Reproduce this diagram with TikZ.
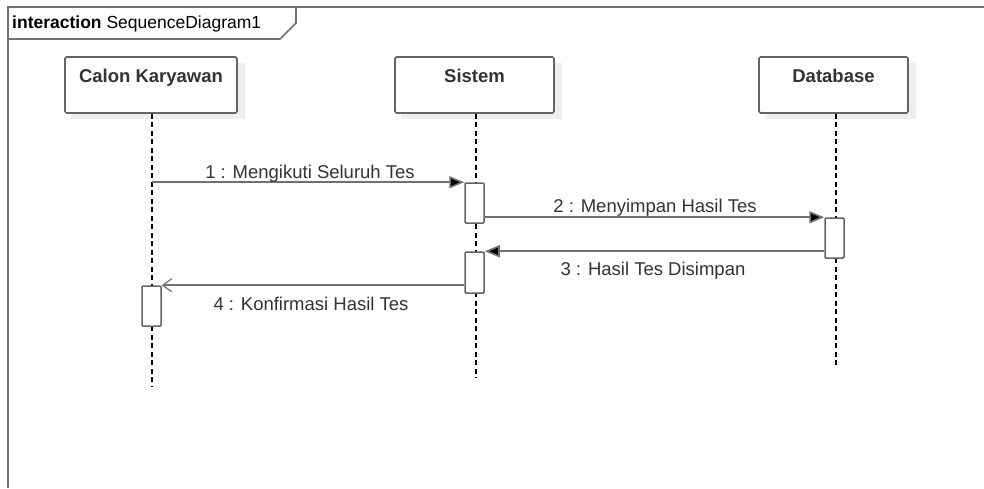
\documentclass[tikz,border=0pt]{standalone}
\usepackage{fontspec}
\setmainfont{Liberation Sans}
\usetikzlibrary{arrows.meta,calc}
\definecolor{lineg}{RGB}{112,112,112}
\definecolor{boxg}{RGB}{100,100,100}
\definecolor{txtg}{RGB}{51,51,51}
\definecolor{shadowg}{RGB}{238,238,238}
\tikzset{
  lifebox/.style={draw=boxg, line width=1.6pt, fill=white, rounded corners=1.5pt,
    font=\fontsize{18.5}{20}\selectfont\bfseries, text=txtg,
    text height=13pt, text depth=19pt, inner sep=0pt},
  boxshadow/.style={fill=shadowg, draw=none},
  act/.style={draw=boxg, line width=1.5pt, fill=white, rounded corners=1pt,
    minimum width=19pt, inner sep=0pt},
  lifeline/.style={draw=black, line width=1.3pt, dash pattern=on 5pt off 3.5pt},
  msg/.style={draw=lineg, line width=1.6pt, -{Triangle[length=15pt,width=12pt,fill=black]}},
  ret/.style={draw=lineg, line width=1.6pt, -{Straight Barb[length=9pt,width=13pt,line width=1.2pt]}},
  msglabel/.style={font=\fontsize{18.5}{20}\selectfont, text=txtg, inner sep=0pt},
}
\begin{document}
\begin{tikzpicture}[x=1pt,y=-1pt]
\useasboundingbox (0,0) rectangle (984,488);
\fill[white] (0,0) rectangle (984,488);
% frame
\draw[lineg, line width=2pt] (8,488) -- (8,7) -- (984,7);
\draw[lineg, line width=1.6pt] (8,39) -- (280,39) -- (296,23) -- (296,7);
\node[anchor=base west, inner sep=0pt, font=\fontsize{17.5}{20}\selectfont, text=black] (hdr) at (12,28) {\textbf{interaction} SequenceDiagram1};
% shadows
\fill[boxshadow] (71,63) rectangle (245,119);
\fill[boxshadow] (401,63) rectangle (562,119);
\fill[boxshadow] (765,63) rectangle (916,119);
% lifeline boxes
\node[lifebox, minimum width=172pt, minimum height=56pt] (calon) at (151,85) {Calon Karyawan};
\node[lifebox, minimum width=159pt, minimum height=56pt] (sistem) at (474.5,85) {Sistem};
\node[lifebox, minimum width=149pt, minimum height=56pt] (db) at (833.5,85) {Database};
% lifeline ends
\coordinate (calonend) at (152,386);
\coordinate (sistemend) at (476,378);
\coordinate (dbend) at (836,365);
\draw[lifeline] (calon.south -| calonend) -- (calonend);
\draw[lifeline] (sistem.south -| sistemend) -- (sistemend);
\draw[lifeline] (db.south -| dbend) -- (dbend);
% activations
\node[act, minimum height=40pt] (a1) at (474.5,203) {};
\node[act, minimum height=40pt] (d1) at (834.5,238) {};
\node[act, minimum height=41pt] (a2) at (474.5,272.5) {};
\node[act, minimum height=40pt] (c1) at (151.5,306) {};
% messages
\draw[msg] (calonend |- a1.north west) -- (a1.north west);
\draw[msg] (a1.east |- d1.north west) -- (d1.north west);
\draw[msg] (d1.west |- a2.north east) -- (a2.north east);
\draw[ret] (a2.west |- c1.north east) -- (c1.north east);
% labels
\node[msglabel, anchor=base] (l1) at (310,178) {1 : Mengikuti Seluruh Tes};
\node[msglabel, anchor=base] (l2) at (655,212) {2 : Menyimpan Hasil Tes};
\node[msglabel, anchor=base] (l3) at (653,275) {3 : Hasil Tes Disimpan};
\node[msglabel, anchor=base] (l4) at (311,310) {4 : Konfirmasi Hasil Tes};
\end{tikzpicture}
\end{document}
